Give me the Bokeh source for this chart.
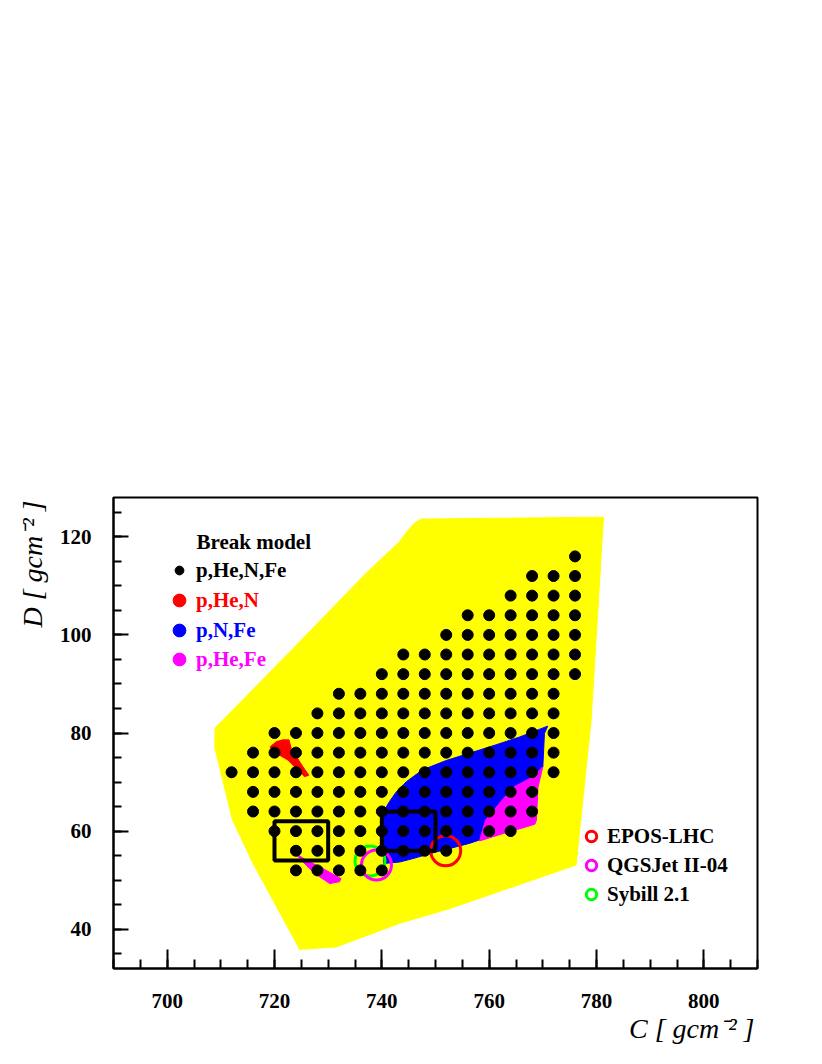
import math
from bokeh.plotting import figure
from bokeh.models import (Label, Legend, LegendItem, FixedTicker, Range1d, Title)
from bokeh.embed import file_html
from bokeh.resources import INLINE

# ---------------- data ----------------
# scan grid of the break model (p,He,N,Fe): one row per D value, C from min to max in steps of 4
dot_row_D = [116, 112, 108, 104, 100, 96, 92, 88, 84, 80, 76, 72, 68, 64, 60, 56, 52]
dot_row_Cmin = [776, 768, 764, 756, 752, 744, 740, 732, 728, 720, 716, 712, 716, 716, 720, 724, 724]
dot_row_Cmax = [776, 776, 776, 776, 776, 776, 776, 772, 772, 772, 772, 772, 768, 768, 764, 752, 740]
grid_step = 4

# allowed region (yellow)
yellow_C = [708.9, 713.5, 724.7, 737.1, 743.3, 744.5, 746.1, 747.3, 781.3, 779.0, 776.2, 752.6, 743.3, 731.5, 724.7, 716.0, 712.2, 708.9]
yellow_D = [81.0, 86.1, 98.6, 112.6, 119.0, 120.8, 122.8, 123.6, 124.0, 82.7, 53.1, 44.2, 41.2, 36.4, 35.9, 53.4, 62.2, 76.9]

# p,N,Fe region (blue)
blue_C = [770.9, 765.7, 761.3, 756.4, 752.0, 747.6, 744.6, 742.7, 741.4, 740.3, 740.3, 743.3, 745.8, 748.9, 756.3, 758.2, 759.3, 762.4, 764.6, 768.2, 770.0, 770.3]
blue_D = [81.4, 79.2, 77.6, 75.9, 74.4, 72.5, 70.1, 68.0, 66.0, 63.9, 53.4, 53.7, 54.4, 55.4, 57.5, 58.2, 62.2, 66.3, 69.0, 71.1, 73.1, 79.9]

# p,He,Fe regions (magenta)
mag_C = [770.0, 769.1, 768.8, 768.5, 762.6, 758.2, 759.3, 762.4, 764.6, 768.2]
mag_D = [73.1, 69.0, 62.2, 61.4, 59.5, 58.0, 62.2, 66.3, 69.0, 71.1]
mag2_C = [724.0, 725.9, 729.0, 732.4, 732.1, 730.3, 728.4, 726.5, 724.7]
mag2_D = [55.4, 54.1, 52.4, 50.3, 49.7, 49.3, 50.7, 52.4, 54.4]

# p,He,N region (red)
red_C = [719.2, 720.3, 721.5, 722.7, 723.1, 724.3, 725.3, 726.4, 725.6, 724.0, 722.5, 720.9, 719.7]
red_D = [77.2, 78.2, 78.6, 78.6, 76.9, 74.8, 73.1, 71.4, 71.1, 72.8, 74.5, 75.5, 76.2]

# boxes
box_C0 = [720, 740]
box_C1 = [730, 750]
box_D0 = [54, 56]
box_D1 = [62, 64]

# hadronic interaction model predictions
model_names = ["EPOS-LHC", "QGSJet II-04", "Sybill 2.1"]
model_C = [751.9, 739.0, 737.8]
model_D = [56.0, 53.1, 53.9]
model_colors = ["#ff0000", "#ff00ff", "#00ff00"]

# axes
x_major = [700, 720, 740, 760, 780, 800]
x_minor = [690, 695, 700, 705, 710, 715, 720, 725, 730, 735, 740, 745, 750, 755, 760, 765, 770, 775, 780, 785, 790, 795, 800, 805, 810]
y_major = [40, 60, 80, 100, 120]
y_minor = [35, 40, 45, 50, 55, 60, 65, 70, 75, 80, 85, 90, 95, 100, 105, 110, 115, 120, 125]
x_title = "C [ gcm\u207b\u00b2 ]"
y_title = "D [ gcm\u207b\u00b2 ]"

FONT = "Liberation Serif"

# ---------------- figure ----------------
p = figure(width=806, height=1048, x_range=Range1d(690, 810), y_range=Range1d(32, 128),
           output_backend="svg", toolbar_location=None,
           min_border_left=113, min_border_right=49, min_border_top=497, min_border_bottom=80)
p.grid.visible = False
p.outline_line_color = "black"
p.outline_line_width = 2
p.background_fill_color = "white"
p.border_fill_color = "white"

for ax, maj, mino, tin, min_in, standoff in ((p.xaxis[0], x_major, x_minor, 19, 9, 25),
                                              (p.yaxis[0], y_major, y_minor, 15, 8, 22)):
    ax.ticker = FixedTicker(ticks=maj, minor_ticks=mino)
    ax.major_tick_in = tin
    ax.major_tick_out = 0
    ax.minor_tick_in = min_in
    ax.minor_tick_out = 0
    ax.major_tick_line_width = 2
    ax.minor_tick_line_width = 2
    ax.axis_line_width = 2
    ax.major_label_text_font = FONT
    ax.major_label_text_font_style = "bold"
    ax.major_label_text_font_size = "21px"
    ax.major_label_text_color = "black"
    ax.major_label_standoff = standoff

# regions
p.patch(yellow_C, yellow_D, fill_color="#ffff00", line_color="#ffff00", line_width=1)
p.patch(blue_C, blue_D, fill_color="#0000ff", line_color="#0000ff", line_width=1)
p.patch(mag_C, mag_D, fill_color="#ff00ff", line_color="#ff00ff", line_width=1)
p.patch(mag2_C, mag2_D, fill_color="#ff00ff", line_color="#ff00ff", line_width=1)
p.patch(red_C, red_D, fill_color="#ff0000", line_color="#ff0000", line_width=1)

# legend-only markers for the coloured regions (zero size on the plot)
r_leg_red = p.scatter(red_C[:1], red_D[:1], marker="circle", size=0, color="#ff0000")
r_leg_blue = p.scatter(blue_C[:1], blue_D[:1], marker="circle", size=0, color="#0000ff")
r_leg_mag = p.scatter(mag_C[:1], mag_D[:1], marker="circle", size=0, color="#ff00ff")

# model circles (green first, magenta over it)
model_r = {}
for i in (2, 1, 0):
    model_r[i] = p.scatter([model_C[i]], [model_D[i]], marker="circle", size=30,
                           fill_color=None, line_color=model_colors[i], line_width=3)

# boxes
p.quad(left=box_C0, right=box_C1, bottom=box_D0, top=box_D1,
       fill_color=None, line_color="black", line_width=4)

# scan grid dots
dots_C, dots_D = [], []
for d, c0, c1 in zip(dot_row_D, dot_row_Cmin, dot_row_Cmax):
    for c in range(c0, c1 + 1, grid_step):
        dots_C.append(c)
        dots_D.append(d)
r_dots = p.scatter(dots_C, dots_D, marker="circle", size=11, color="black")


def add_legend(items, loc, gw, gh, standoff, color, spacing=0):
    lg = Legend(items=items, location=loc, orientation="vertical",
                glyph_width=gw, glyph_height=gh, label_height=gh, label_width=10,
                label_standoff=standoff, spacing=spacing, padding=0, margin=0,
                border_line_color=None, background_fill_alpha=0,
                label_text_font=FONT, label_text_font_style="bold",
                label_text_font_size="21px", label_text_color=color)
    p.add_layout(lg)


add_legend([LegendItem(label="p,He,N,Fe", renderers=[r_dots])], (55, 383), 22, 30, 6, "black")
add_legend([LegendItem(label="p,He,N", renderers=[r_leg_red])], (50, 352), 32, 32, 1, "#ff0000")
add_legend([LegendItem(label="p,N,Fe", renderers=[r_leg_blue])], (50, 322), 32, 32, 1, "#0000ff")
add_legend([LegendItem(label="p,He,Fe", renderers=[r_leg_mag])], (50, 293), 32, 32, 1, "#ff00ff")
add_legend([LegendItem(label=model_names[i], renderers=[model_r[i]]) for i in (0, 1, 2)],
           (465, 61), 26, 26, 3, "black", spacing=3)

p.add_layout(Label(x=83, y=427, x_units="screen", y_units="screen", text="Break model",
                   text_font=FONT, text_font_style="bold", text_font_size="21px",
                   text_color="black", text_baseline="alphabetic"))

# axis titles, right-aligned at the end of each axis (as separate title panels)
for txt, side, off, st in ((x_title, "below", 3, 0), (y_title, "left", 3, 17)):
    p.add_layout(Title(text=txt, align="right", offset=off, standoff=st,
                       text_font=FONT, text_font_style="italic", text_font_size="28px",
                       text_color="black"), side)

open("out.html", "w").write(file_html(p, INLINE))
